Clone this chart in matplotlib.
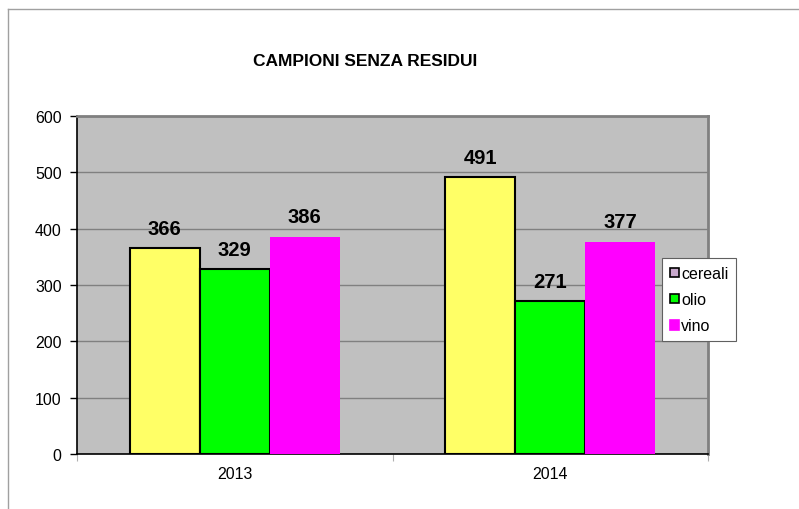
import matplotlib
matplotlib.use("Agg")
import matplotlib.pyplot as plt
import matplotlib.patches as mpatches
from matplotlib.lines import Line2D
import numpy as np

plt.rcParams["font.family"] = ["Liberation Sans", "DejaVu Sans"]

# ── Data ─────────────────────────────────────────────────────────────────────
years = ["2013", "2014"]
series = ["cereali", "olio", "vino"]
cereali = [366, 491]
olio = [329, 271]
vino = [386, 377]

bar_colors = ["#ffff66", "#00ff00", "#ff00ff"]
edge_colors = ["black", "black", "none"]
legend_colors = ["#c8a8cc", "#00ff00", "#ff00ff"]

# ── Figure ───────────────────────────────────────────────────────────────────
W, H = 799, 510
fig = plt.figure(figsize=(W / 100, H / 100), dpi=100)
fig.patch.set_facecolor("white")

# outer chart frame (top and left edges visible)
fig.add_artist(Line2D([8 / W, 1.0], [1 - 10 / H, 1 - 10 / H],
                      transform=fig.transFigure, color="#a0a0a0", lw=1))
fig.add_artist(Line2D([8 / W, 8 / W], [0.0, 1 - 10 / H],
                      transform=fig.transFigure, color="#a0a0a0", lw=1))

ax = fig.add_axes([77 / W, (H - 455) / H, (708 - 77) / W, (455 - 117) / H])
ax.set_facecolor("#c0c0c0")

x = np.arange(len(years)) + 0.5
width = 0.222
values = [cereali, olio, vino]
for i, (vals, col, ec) in enumerate(zip(values, bar_colors, edge_colors)):
    pos = x + (i - 1) * width
    ax.bar(pos, vals, width=width, color=col, edgecolor=ec,
           linewidth=1.5, zorder=3)
    for p, v in zip(pos, vals):
        ax.text(p, v + 18, str(v), ha="center", va="bottom",
                fontsize=14.5, fontweight="bold", zorder=4)

ax.set_xlim(0, 2)
ax.set_ylim(0, 600)
ax.set_yticks(range(0, 601, 100))
ax.yaxis.grid(True, color="#808080", lw=1, zorder=1)
ax.tick_params(axis="y", labelsize=11.5, length=5, width=1, color="black", pad=6)

ax.set_xticks([0, 1, 2])
ax.set_xticklabels([])
ax.tick_params(axis="x", which="major", length=5, color="#b0b0b0")
ax.set_xticks(x, minor=True)
ax.set_xticklabels(years, minor=True)
ax.tick_params(axis="x", which="minor", length=0, labelsize=11.5, pad=9)

for s in ["left", "bottom"]:
    ax.spines[s].set_color("black")
    ax.spines[s].set_linewidth(1.2)
for s in ["top", "right"]:
    ax.spines[s].set_color("#808080")
    ax.spines[s].set_linewidth(2)

fig.text(365 / W, 1 - 61 / H, "CAMPIONI SENZA RESIDUI", ha="center", va="center",
         fontsize=12.5, fontweight="bold")

# legend
handles = [mpatches.Patch(facecolor=c, edgecolor=e if e != "none" else c, lw=1.2, label=s)
           for s, c, e in zip(series, legend_colors, edge_colors)]
leg = fig.legend(handles=handles, loc="upper left",
                 bbox_to_anchor=(662 / W, 1 - 259 / H), bbox_transform=fig.transFigure,
                 fontsize=11.5, frameon=True, fancybox=False, framealpha=1,
                 edgecolor="#606060", handlelength=0.55, handleheight=0.55,
                 handletextpad=0.15, labelspacing=0.7, borderpad=0.5,
                 borderaxespad=0)
leg.get_frame().set_linewidth(0.8)

fig.savefig("out.png", dpi=100, facecolor=fig.get_facecolor())
plt.close()
